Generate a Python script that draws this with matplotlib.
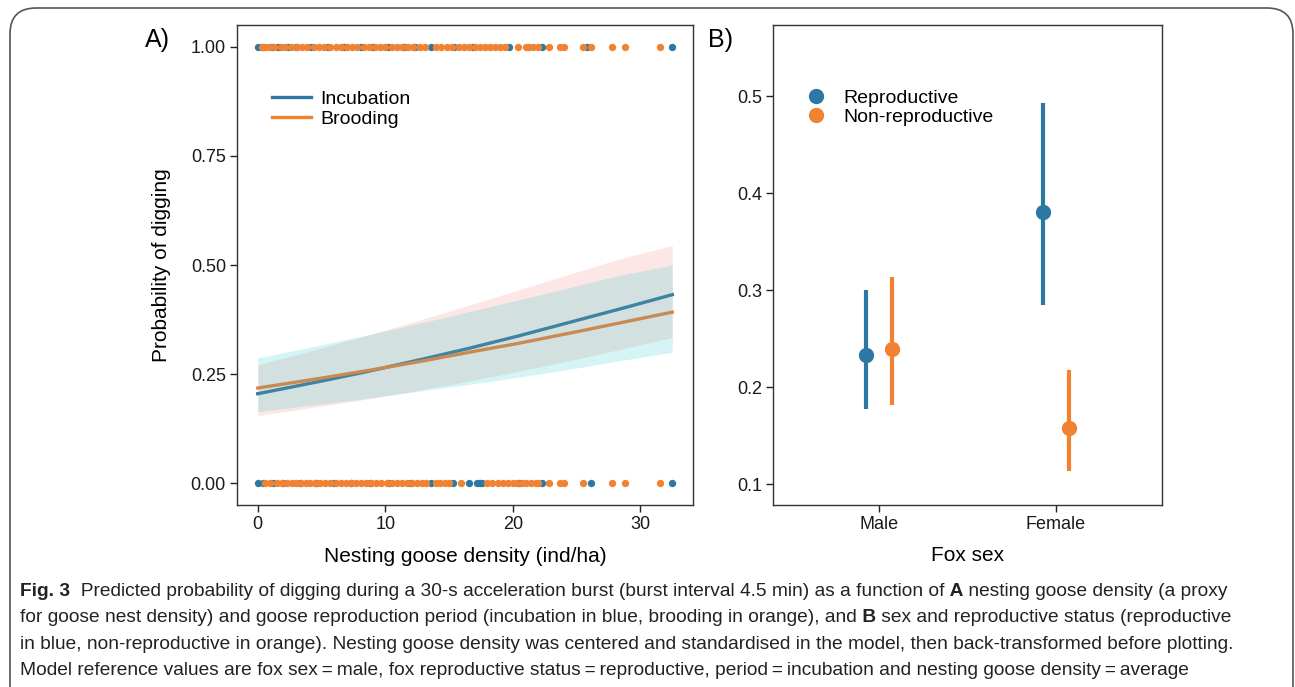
import numpy as np
import matplotlib.pyplot as plt
from matplotlib.patches import FancyBboxPatch

# panel A: fitted curves
dens = [0, 4, 8, 12, 16, 20, 24, 28, 32.5]
inc_fit = [0.205, 0.228, 0.252, 0.278, 0.305, 0.334, 0.365, 0.396, 0.432]
inc_lo = [0.155, 0.172, 0.190, 0.210, 0.231, 0.254, 0.278, 0.304, 0.334]
inc_hi = [0.271, 0.302, 0.334, 0.368, 0.403, 0.439, 0.475, 0.511, 0.545]
brd_fit = [0.218, 0.236, 0.255, 0.275, 0.297, 0.318, 0.341, 0.365, 0.392]
brd_lo = [0.164, 0.178, 0.192, 0.208, 0.224, 0.241, 0.259, 0.279, 0.300]
brd_hi = [0.287, 0.311, 0.336, 0.362, 0.389, 0.417, 0.445, 0.474, 0.500]

# raw observations (digging = 1 / 0)
inc_x1 = [0.0, 0.3, 1.1, 1.6, 2.4, 3.0, 4.2, 5.5, 6.8, 8.1, 9.0, 10.2, 11.5, 12.3,
          13.6, 15.4, 16.9, 19.7, 22.3, 25.8, 32.5]
brd_x1 = [0.3, 0.6, 0.9, 1.3, 1.8, 2.1, 2.6, 3.1, 3.5, 3.9, 4.4, 4.8, 5.2, 5.7, 6.1,
          6.5, 7.0, 7.4, 7.8, 8.3, 8.7, 9.2, 9.6, 10.0, 10.5, 10.9, 11.3, 11.8, 12.2,
          12.7, 13.1, 14.0, 14.4, 14.8, 15.2, 15.8, 16.2, 16.6, 17.0, 17.4, 17.8, 18.2,
          18.6, 19.0, 19.4, 20.4, 21.0, 21.3, 21.6, 22.0, 22.8, 23.7, 24.0, 25.5, 26.1,
          27.8, 28.8, 31.5]
inc_x0 = [0.0, 0.4, 1.2, 2.0, 3.3, 4.6, 6.0, 7.3, 8.8, 10.3, 11.9, 13.6, 15.3, 16.6,
          17.2, 17.4, 17.6, 20.5, 22.3, 26.1, 32.5]
brd_x0 = [0.6, 1.0, 1.5, 1.9, 2.3, 2.7, 3.0, 3.4, 3.8, 4.1, 4.5, 4.9, 5.3, 5.7, 6.1,
          6.5, 6.9, 7.3, 7.7, 8.1, 8.5, 8.9, 9.3, 9.7, 10.1, 10.5, 10.9, 11.3, 11.7,
          12.1, 12.5, 12.9, 13.2, 14.0, 14.3, 14.7, 15.0, 15.9, 18.0, 18.4, 18.8, 19.2,
          19.6, 20.0, 20.3, 20.7, 21.0, 21.4, 21.8, 22.0, 22.8, 23.7, 24.0, 25.5, 27.8,
          28.8, 31.5]

# panel B: estimates and CIs
sex = ['Male', 'Female']
rep_est = [0.233, 0.380]
rep_lo = [0.177, 0.285]
rep_hi = [0.300, 0.493]
non_est = [0.239, 0.158]
non_lo = [0.181, 0.113]
non_hi = [0.313, 0.218]

BLUE = '#2b78a3'
ORANGE = '#f08232'
W, H = 1295, 687

plt.rcParams['font.family'] = ['Liberation Sans', 'DejaVu Sans']
fig = plt.figure(figsize=(W / 100, H / 100), dpi=100)


def px_axes(l, t, r, b):
    return fig.add_axes([l / W, 1 - b / H, (r - l) / W, (b - t) / H])


def style(ax):
    for s in ax.spines.values():
        s.set_color('#333333')
        s.set_linewidth(1.0)
    ax.tick_params(direction='out', length=5, width=1.0, color='#222222',
                   labelsize=13, labelcolor='#1a1a1a', pad=3)


# ---- A ----
axA = px_axes(237, 25, 693, 505)
style(axA)
axA.scatter(inc_x1, [1] * len(inc_x1), s=28, color=BLUE, lw=0, zorder=2)
axA.scatter(inc_x0, [0] * len(inc_x0), s=28, color=BLUE, lw=0, zorder=2)
axA.scatter(brd_x1, [1] * len(brd_x1), s=28, color=ORANGE, lw=0, zorder=3)
axA.scatter(brd_x0, [0] * len(brd_x0), s=28, color=ORANGE, lw=0, zorder=3)

xs = np.linspace(0, 32.5, 200)
axA.plot(xs, np.interp(xs, dens, inc_fit), color=BLUE, lw=2.4, zorder=3, label='Incubation')
axA.plot(xs, np.interp(xs, dens, brd_fit), color=ORANGE, lw=2.4, zorder=3, label='Brooding')
# ribbons drawn over the lines, as in the original
axA.fill_between(dens, inc_lo, inc_hi, color='#F8766D', alpha=0.17, lw=0, zorder=4)
axA.fill_between(dens, brd_lo, brd_hi, color='#00BFC4', alpha=0.17, lw=0, zorder=4)

axA.set_xlim(-1.625, 34.125)
axA.set_ylim(-0.05, 1.05)
axA.set_xticks([0, 10, 20, 30])
axA.set_yticks([0, 0.25, 0.5, 0.75, 1.0])
axA.set_yticklabels(['0.00', '0.25', '0.50', '0.75', '1.00'])
axA.set_xlabel('Nesting goose density (ind/ha)', fontsize=15, labelpad=10)
axA.set_ylabel('Probability of digging', fontsize=15, labelpad=14)
axA.legend(loc='upper left', bbox_to_anchor=(0.06, 0.88), frameon=False, fontsize=14,
           handlelength=2.0, handletextpad=0.5, labelspacing=0.1, borderaxespad=0)

# ---- B ----
axB = px_axes(773, 25, 1162, 505)
style(axB)
pos = np.arange(1, len(sex) + 1)
d = 0.075
axB.vlines(pos - d, rep_lo, rep_hi, color=BLUE, lw=3)
axB.plot(pos - d, rep_est, 'o', color=BLUE, ms=10, label='Reproductive')
axB.vlines(pos + d, non_lo, non_hi, color=ORANGE, lw=3)
axB.plot(pos + d, non_est, 'o', color=ORANGE, ms=10, label='Non-reproductive')
axB.set_xlim(0.4, 2.6)
axB.set_ylim(0.0784, 0.5732)
axB.set_xticks(pos)
axB.set_xticklabels(sex)
axB.set_yticks([0.1, 0.2, 0.3, 0.4, 0.5])
axB.set_xlabel('Fox sex', fontsize=15, labelpad=9)
axB.legend(loc='upper left', bbox_to_anchor=(0.06, 0.883), frameon=False, fontsize=14,
           handlelength=1.2, handletextpad=0.8, labelspacing=0.1, borderaxespad=0)

fig.text(145 / W, 1 - 40 / H, 'A)', fontsize=18, va='center', ha='left')
fig.text(708 / W, 1 - 40 / H, 'B)', fontsize=18, va='center', ha='left')

# ---- caption ----
cap_font = ['Liberation Sans', 'DejaVu Sans']
cap_size = 13.8
lines = [
    [('Fig. 3', True), ('  Predicted probability of digging during a 30-s acceleration burst '
                        '(burst interval 4.5 min) as a function of', False), (' A', True),
     (' nesting goose density (a proxy', False)],
    [('for goose nest density) and goose reproduction period (incubation in blue, brooding '
      'in orange), and', False), (' B', True), (' sex and reproductive status (reproductive', False)],
    [('in blue, non-reproductive in orange). Nesting goose density was centered and '
      'standardised in the model, then back-transformed before plotting.', False)],
    [('Model reference values are fox sex\u2009=\u2009male, fox reproductive status\u2009=\u2009'
      'reproductive, period\u2009=\u2009incubation and nesting goose density\u2009=\u2009average', False)],
]
r = fig.canvas.get_renderer()
for i, parts in enumerate(lines):
    x = 20
    y = 596 + i * 26.3
    for txt, bold in parts:
        t = fig.text(x / W, 1 - y / H, txt, fontsize=cap_size, family=cap_font,
                     fontweight='bold' if bold else 'normal', color='#222222',
                     va='baseline', ha='left')
        x += t.get_window_extent(renderer=r).width

# rounded frame round the whole figure
frame = FancyBboxPatch((10 / W, -0.05), (1293 - 10) / W, 1 - 8 / H + 0.05,
                       boxstyle='round,pad=0,rounding_size=0.02',
                       transform=fig.transFigure, fill=False, ec='#555555', lw=1.2,
                       mutation_aspect=W / H)
fig.patches.append(frame)

plt.savefig('out.png', dpi=100)
